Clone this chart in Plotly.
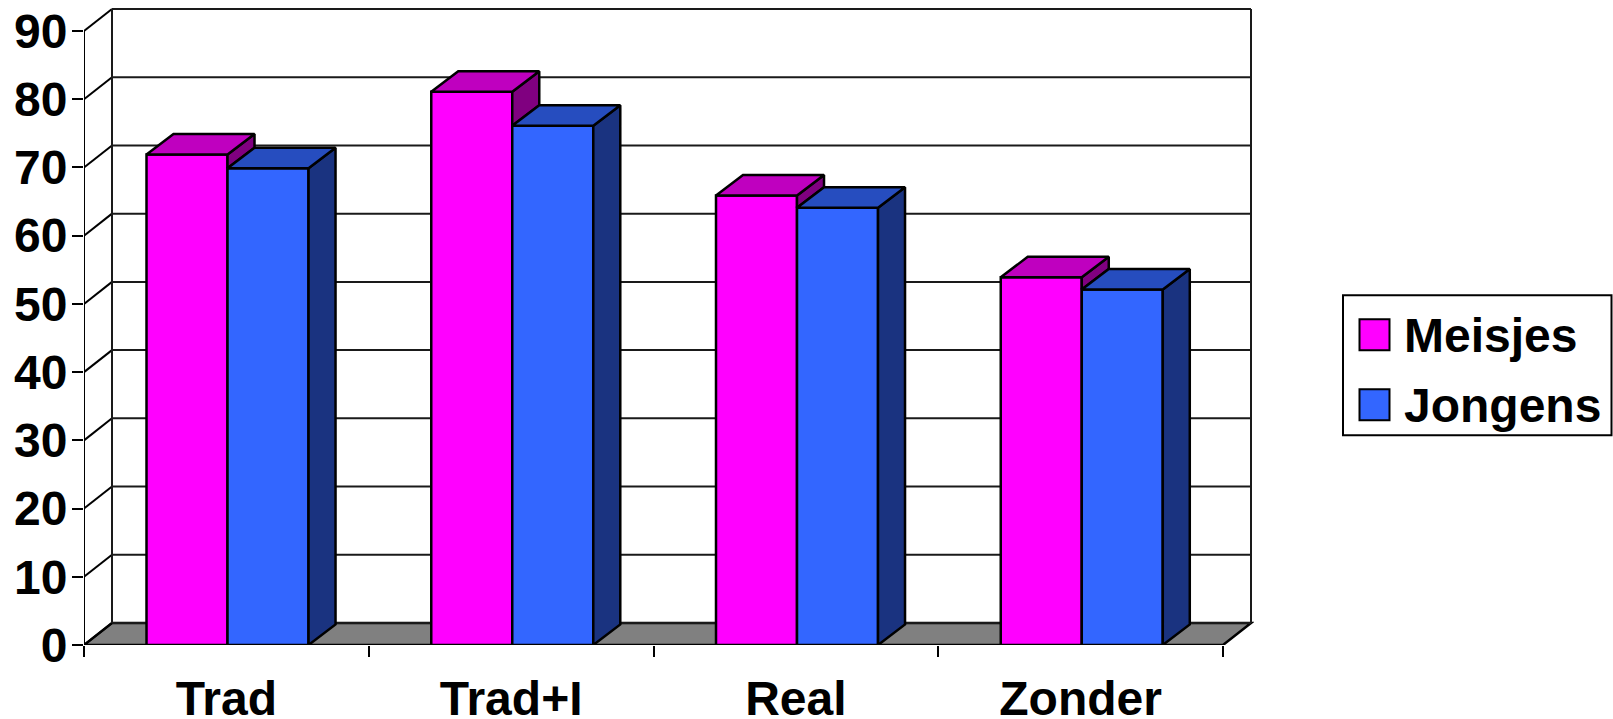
import plotly.graph_objects as go

categories = ["Trad", "Trad+I", "Real", "Zonder"]
meisjes = [71.9, 81.1, 65.9, 53.9]
jongens = [69.9, 76.1, 64.1, 52.1]
y_ticks = [0, 10, 20, 30, 40, 50, 60, 70, 80, 90]

FONT = "Liberation Sans"
INK = "#000000"
MAGENTA, MAGENTA_TOP, MAGENTA_SIDE = "#FF00FF", "#BF00BF", "#800080"
BLUE, BLUE_TOP, BLUE_SIDE = "#3366FF", "#264DBF", "#1A3380"
FLOOR = "#808080"
EDGE = 2.5

# Canvas layout, in pixels
W, H = 1613, 719
LEFT, BOTTOM = 84, 645
CAT_PX = 284.75
UNIT_PX = 6.817
DEPTH_X_PX, DEPTH_Y_PX = 28, 22
BAR_DEPTH_X_PX, BAR_DEPTH_Y_PX = 27, 20.5
PAD_PX = 3

# Oblique depth expressed in axis units
dx = DEPTH_X_PX / CAT_PX
dy = DEPTH_Y_PX / UNIT_PX
bar_dx = BAR_DEPTH_X_PX / CAT_PX
bar_dy = BAR_DEPTH_Y_PX / UNIT_PX
n = len(categories)
x_max = n + dx + PAD_PX / CAT_PX
y_top = y_ticks[-1]
y_max = y_top + dy + PAD_PX / UNIT_PX
right_px = LEFT + x_max * CAT_PX
top_px = BOTTOM - y_max * UNIT_PX

BAR_W = 0.2845
GROUP_SHIFT = 0.004
centers = [i + 0.5 for i in range(n)]


def px_x(p):
    return (p - LEFT) / (right_px - LEFT)


def px_y(p):
    return (BOTTOM - p) / (BOTTOM - top_px)


fig = go.Figure()

# Floor, walls and gridlines sit behind everything
shapes = [
    dict(type="path", layer="below", xref="x", yref="y",
         path=f"M 0 0 L {dx} {dy} L {n + dx} {dy} L {n} 0 Z",
         fillcolor=FLOOR, line=dict(color=INK, width=EDGE)),
]
for v in y_ticks:
    shapes.append(dict(type="line", layer="below", xref="x", yref="y",
                       x0=dx, x1=n + dx, y0=v + dy, y1=v + dy,
                       line=dict(color="#1a1a1a", width=2)))
    shapes.append(dict(type="line", layer="below", xref="x", yref="y",
                       x0=0, x1=dx, y0=v, y1=v + dy,
                       line=dict(color=INK, width=2)))
for wall_x in (dx, n + dx):
    shapes.append(dict(type="line", layer="below", xref="x", yref="y",
                       x0=wall_x, x1=wall_x, y0=dy, y1=y_top + dy,
                       line=dict(color="#1a1a1a", width=2)))

# Front faces
fig.add_trace(go.Bar(name="Meisjes", x=centers, y=meisjes, width=BAR_W,
                     offset=GROUP_SHIFT - BAR_W,
                     marker=dict(color=MAGENTA, line=dict(color=INK, width=EDGE))))
fig.add_trace(go.Bar(name="Jongens", x=centers, y=jongens, width=BAR_W,
                     offset=GROUP_SHIFT,
                     marker=dict(color=BLUE, line=dict(color=INK, width=EDGE))))


def face(xs, ys, color):
    fig.add_trace(go.Scatter(x=xs, y=ys, mode="lines", fill="toself",
                             fillcolor=color, line=dict(color=INK, width=EDGE),
                             hoverinfo="skip", showlegend=False, cliponaxis=False))


# Side and top faces, painted back to front for each group
for c, m, j in zip(centers, meisjes, jongens):
    x0 = c + GROUP_SHIFT - BAR_W
    x1 = c + GROUP_SHIFT
    x2 = c + GROUP_SHIFT + BAR_W
    face([x1, x1 + bar_dx, x1 + bar_dx, x1, x1], [j, j + bar_dy, m + bar_dy, m, j], MAGENTA_SIDE)
    face([x0, x0 + bar_dx, x1 + bar_dx, x1, x0], [m, m + bar_dy, m + bar_dy, m, m], MAGENTA_TOP)
    face([x2, x2 + bar_dx, x2 + bar_dx, x2, x2], [0, bar_dy, j + bar_dy, j, 0], BLUE_SIDE)
    face([x1, x1 + bar_dx, x2 + bar_dx, x2, x1], [j, j + bar_dy, j + bar_dy, j, j], BLUE_TOP)

# Front edge of the chart box: value axis and floor edge
fig.add_trace(go.Scatter(x=[0, 0, n], y=[y_top, 0, 0], mode="lines",
                         line=dict(color=INK, width=2), hoverinfo="skip",
                         showlegend=False, cliponaxis=False))

# Legend box
legend_rows = [("Meisjes", MAGENTA, 319.5), ("Jongens", BLUE, 389.5)]
shapes.append(dict(type="rect", xref="paper", yref="paper",
                   x0=px_x(1343), x1=px_x(1611.5), y0=px_y(435.5), y1=px_y(295.5),
                   fillcolor="white", line=dict(color=INK, width=2)))
annotations = []
for label, color, top in legend_rows:
    shapes.append(dict(type="rect", xref="paper", yref="paper",
                       x0=px_x(1359.5), x1=px_x(1389.5), y0=px_y(top + 31), y1=px_y(top),
                       fillcolor=color, line=dict(color=INK, width=2)))
    annotations.append(dict(text=label, xref="paper", yref="paper",
                            x=px_x(1402), y=px_y(top + 16.5), xanchor="left", yanchor="middle",
                            showarrow=False,
                            font=dict(family=FONT, size=48, color=INK, weight=700)))

fig.update_layout(
    width=W, height=H, autosize=False,
    margin=dict(l=LEFT, r=W - right_px, t=top_px, b=H - BOTTOM, pad=0),
    paper_bgcolor="white", plot_bgcolor="white",
    barmode="overlay", showlegend=False,
    shapes=shapes, annotations=annotations,
    xaxis=dict(range=[0, x_max], tickmode="array", tickvals=centers, ticktext=categories,
               ticks="outside", ticklen=0, tickwidth=0, showgrid=False, zeroline=False,
               showline=False, ticklabelstandoff=11, automargin=False,
               tickfont=dict(family=FONT, size=48, color=INK, weight=700),
               minor=dict(tickmode="array", tickvals=list(range(n + 1)), ticks="outside",
                          ticklen=11, tickwidth=2, tickcolor=INK, showgrid=False)),
    yaxis=dict(range=[0, y_max], tickmode="array", tickvals=y_ticks,
               ticktext=[str(v) for v in y_ticks], ticks="outside", ticklen=11, tickwidth=2,
               tickcolor=INK, showgrid=False, zeroline=False, showline=False,
               ticklabelstandoff=-5, automargin=False,
               tickfont=dict(family=FONT, size=48, color=INK, weight=700)),
)

fig.write_html("out.html", config=dict(displayModeBar=False))
